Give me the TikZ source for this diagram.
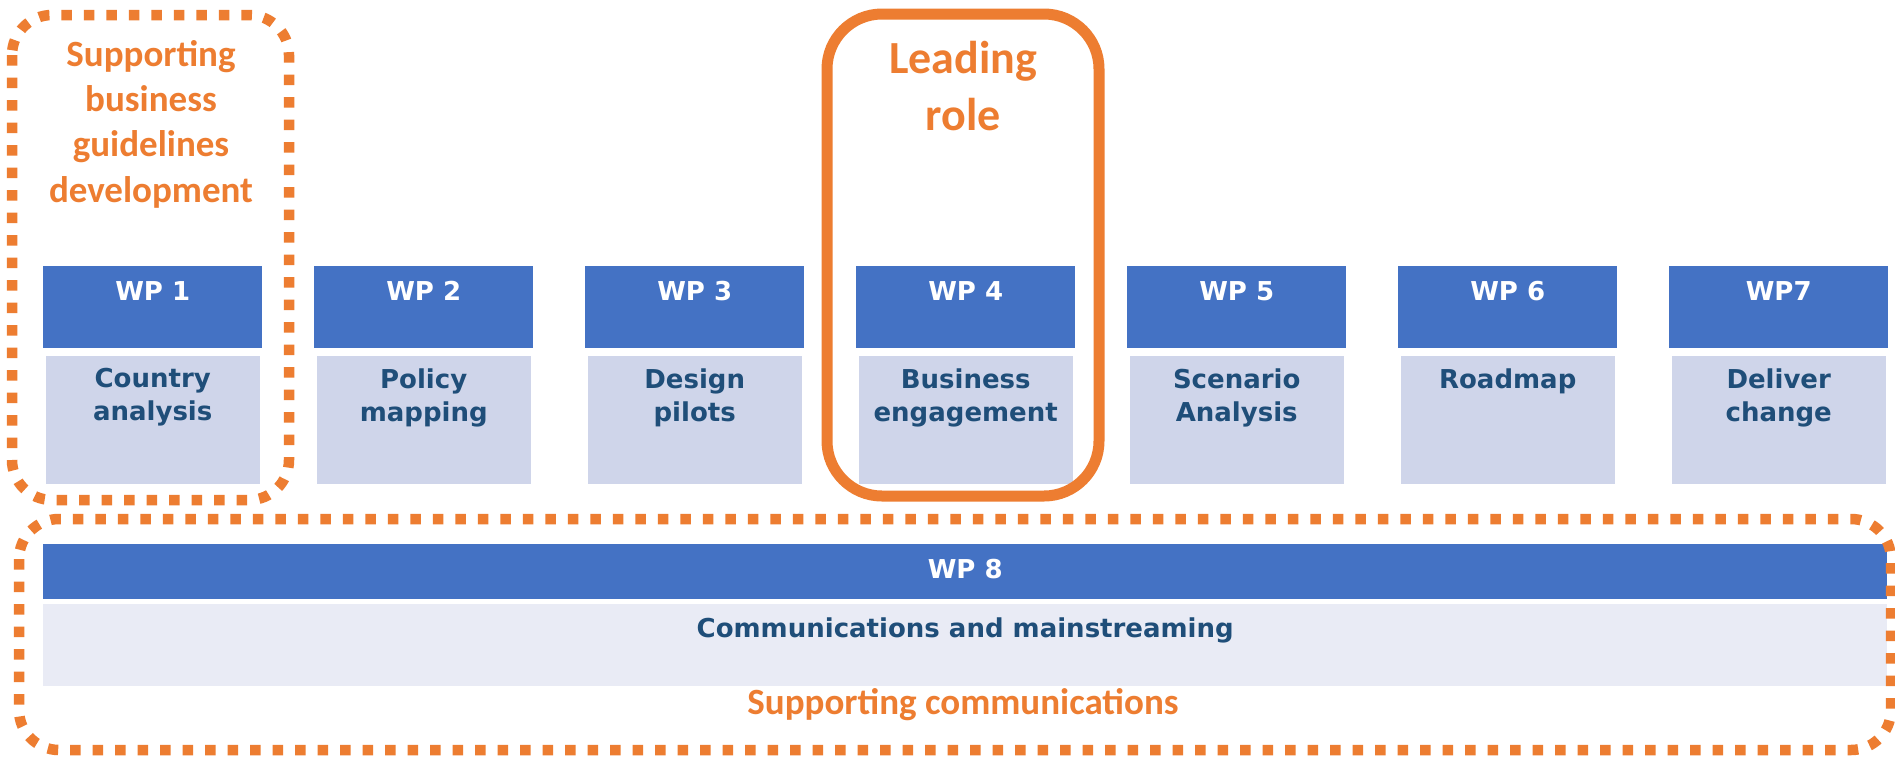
\documentclass[tikz,border=0pt]{standalone}
\usepackage{fontspec}
\newfontfamily\wpfont{DejaVu Sans}
\newfontfamily\orfont{Carlito}
\definecolor{hdr}{HTML}{4472C4}
\definecolor{bdy}{HTML}{CFD5EA}
\definecolor{bdyl}{HTML}{E9EBF5}
\definecolor{txt}{HTML}{1F4E79}
\definecolor{org}{HTML}{ED7D31}
\tikzset{
  hdrbox/.style={fill=hdr, draw=none, minimum width=219pt, minimum height=82pt, anchor=north west, inner sep=0pt},
  bodybox/.style={fill=bdy, draw=none, minimum width=214pt, minimum height=128pt, anchor=north, inner sep=0pt},
  hdrtext/.style={text=white, font=\wpfont\bfseries\fontsize{26}{31}\selectfont, anchor=base, inner sep=0pt},
  bodytext/.style={text=txt, font=\wpfont\bfseries\fontsize{26}{33}\selectfont, align=center, anchor=north, inner sep=0pt},
  orangetext/.style={text=org, align=center, inner sep=0pt},
  dotbox/.style={draw=org, line width=10.5pt, dash pattern=on 10.5pt off 12pt, rounded corners=40pt},
  leadbox/.style={draw=org, line width=11pt, rounded corners=55pt},
}
\begin{document}
\begin{tikzpicture}[x=1pt,y=-1pt]
\useasboundingbox[fill=white] (0,0) rectangle (1895,756);
% column work packages
\foreach \i/\lab/\txt in {1/WP 1/{Country\\analysis},2/WP 2/{Policy\\mapping},3/WP 3/{Design\\pilots},4/WP 4/{Business\\engagement},5/WP 5/{Scenario\\Analysis},6/WP 6/{Roadmap},7/WP7/{Deliver\\change}}{
  \pgfmathsetmacro\xl{43+271*(\i-1)}
  \node[hdrbox] (h\i) at (\xl,266) {};
  \node[hdrtext] (ht\i) at ([yshift=-34.5pt]h\i.north) {\lab};
  \node[bodybox] (b\i) at ([yshift=-7pt]h\i.south) {};
  \node[bodytext] (bt\i) at ([yshift=-13pt]b\i.north) {\txt};
}
% WP 8
\node[hdrbox, minimum width=1844pt, minimum height=55pt] (h8) at (43,544) {};
\node[hdrtext] (ht8) at ([yshift=-34.5pt]h8.north) {WP 8};
\node[fill=bdyl, draw=none, anchor=north west, inner sep=0pt, minimum width=1844pt, minimum height=82pt] (b8) at (43,604) {};
\node[hdrtext, text=txt] (bt8) at ([yshift=-33.5pt]b8.north) {Communications and mainstreaming};
% frames
\draw[dotbox] (12,15) rectangle (289,500);
\draw[dotbox] (19,519) rectangle (1891,750);
\draw[leadbox] (827,14) rectangle (1099,496);
% orange labels
\node[orangetext, font=\orfont\bfseries\fontsize{37}{45.3}\selectfont, anchor=north] (sb) at (151,40) {Supporting\\business\\guidelines\\development};
\node[orangetext, font=\orfont\bfseries\fontsize{46}{57}\selectfont, anchor=north] (lr) at (963,41) {Leading\\role};
\node[orangetext, font=\orfont\bfseries\fontsize{37}{45}\selectfont, anchor=base] (sc) at (963,714) {Supporting communications};
\end{tikzpicture}
\end{document}
